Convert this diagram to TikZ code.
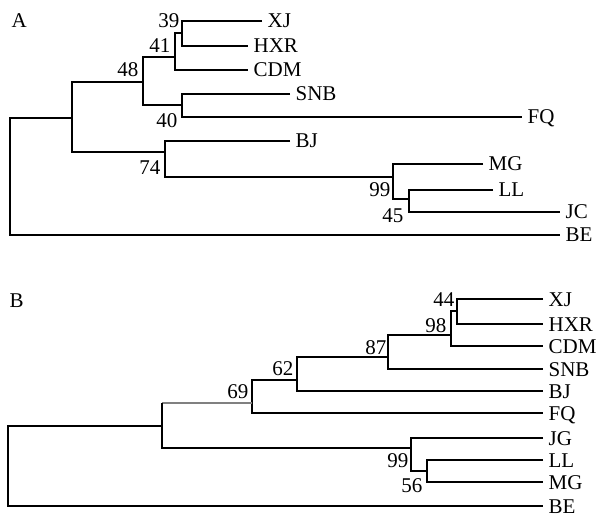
\documentclass[tikz,border=0pt]{standalone}
\usepackage{fontspec}
\setmainfont{Liberation Serif}
\begin{document}
\begin{tikzpicture}[x=1pt,y=-1pt,line width=1.3pt,
  lbl/.style={font=\fontsize{21}{21}\selectfont},
  leaf/.style={lbl,anchor=west,inner xsep=5pt,inner ysep=0pt,text height=14pt,text depth=0pt},
  boot/.style={lbl,anchor=base east,inner sep=0pt},
  panel/.style={lbl,anchor=base west,inner sep=0pt},
  faint/.style={draw=black!50}]
\useasboundingbox[fill=white] (0,0) rectangle (598,516);
% ---------- Tree A ----------
\node[panel] (pA) at (11,28) {A};
\node[leaf] (aXJ)  at (262,21)  {XJ};
\node[leaf] (aHXR) at (248,46)  {HXR};
\node[leaf] (aCDM) at (248,70)  {CDM};
\node[leaf] (aSNB) at (290,94)  {SNB};
\node[leaf] (aFQ)  at (522,117) {FQ};
\node[leaf] (aBJ)  at (290,141) {BJ};
\node[leaf] (aMG)  at (483,164) {MG};
\node[leaf] (aLL)  at (493,190) {LL};
\node[leaf] (aJC)  at (560,212) {JC};
\node[leaf] (aBE)  at (560,235) {BE};
\coordinate (a39) at (182,33);
\coordinate (a41) at (175,57);
\coordinate (a40) at (182,105);
\coordinate (a48) at (143,82);
\coordinate (a45) at (409,199);
\coordinate (a99) at (393,177);
\coordinate (a74) at (165,152);
\coordinate (aA1) at (72,118);
\coordinate (aR)  at (10,150);
\draw (aXJ.west) -| (a39) |- (aHXR.west);
\draw (a39) -| (a41) |- (aCDM.west);
\draw (aSNB.west) -| (a40) |- (aFQ.west);
\draw (a41) -| (a48) |- (a40);
\draw (aLL.west) -| (a45) |- (aJC.west);
\draw (aMG.west) -| (a99) |- (a45);
\draw (aBJ.west) -| (a74) |- (a99);
\draw (a48) -| (aA1) |- (a74);
\draw (aA1) -| (aR) |- (aBE.west);
\node[boot] (tA39) at (180,28)  {39};
\node[boot] (tA41) at (171,53)  {41};
\node[boot] (tA48) at (139,77)  {48};
\node[boot] (tA40) at (178,128) {40};
\node[boot] (tA74) at (161,175) {74};
\node[boot] (tA99) at (391,197) {99};
\node[boot] (tA45) at (404,223) {45};
% ---------- Tree B ----------
\node[panel] (pB) at (9,308) {B};
\node[leaf] (bXJ)  at (543,299) {XJ};
\node[leaf] (bHXR) at (543,324) {HXR};
\node[leaf] (bCDM) at (543,346) {CDM};
\node[leaf] (bSNB) at (543,369) {SNB};
\node[leaf] (bBJ)  at (543,391) {BJ};
\node[leaf] (bFQ)  at (543,413) {FQ};
\node[leaf] (bJG)  at (543,438) {JG};
\node[leaf] (bLL)  at (543,460) {LL};
\node[leaf] (bMG)  at (543,482) {MG};
\node[leaf] (bBE)  at (543,506) {BE};
\coordinate (b44) at (457,311);
\coordinate (b98) at (451,335);
\coordinate (b87) at (388,357);
\coordinate (b62) at (297,380);
\coordinate (b69) at (252,403);
\coordinate (bB1) at (162,426);
\coordinate (b99) at (411,448);
\coordinate (b56) at (427,471);
\coordinate (bR)  at (8,460);
\draw (bXJ.west) -| (b44) |- (bHXR.west);
\draw (b44) -| (b98) |- (bCDM.west);
\draw (b98) -| (b87) |- (bSNB.west);
\draw (b87) -| (b62) |- (bBJ.west);
\draw (b62) -| (b69) |- (bFQ.west);
\draw[faint] (b69) -- (bB1 |- b69);
\draw (bB1 |- b69) -- (bB1) |- (b99);
\draw (bLL.west) -| (b56) |- (bMG.west);
\draw (bJG.west) -| (b99) |- (b56);
\draw (bB1) -| (bR) |- (bBE.west);
\node[boot] (tB44) at (455,307) {44};
\node[boot] (tB98) at (447,332) {98};
\node[boot] (tB87) at (387,355) {87};
\node[boot] (tB62) at (294,375) {62};
\node[boot] (tB69) at (249,398) {69};
\node[boot] (tB99) at (409,467) {99};
\node[boot] (tB56) at (423,492) {56};
\end{tikzpicture}
\end{document}
